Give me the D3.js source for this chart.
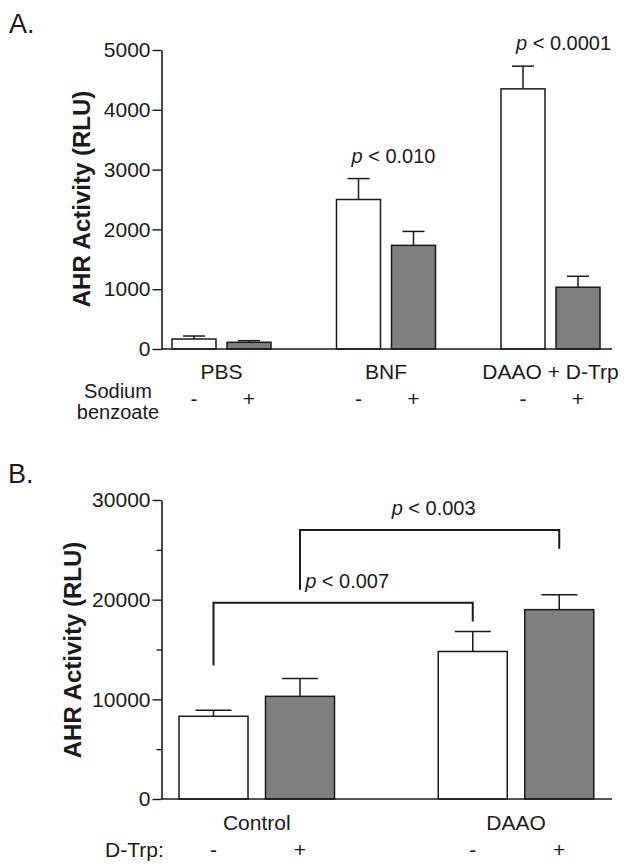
<!DOCTYPE html>
<html>
<head>
<meta charset="utf-8">
<script src="https://cdn.jsdelivr.net/npm/d3@7"></script>
<style>
  html, body { margin: 0; padding: 0; background: #fff; }
  svg { display: block; font-family: 'Liberation Sans', Arial, sans-serif; }
</style>
</head>
<body>
<div id="chart"></div>
<script>
// Panel A - sodium benzoate
const groupsA = ['PBS', 'BNF', 'DAAO + D-Trp']
const withoutBenzoate = [167, 2500, 4350]
const withoutBenzoateSem = [50, 350, 380]
const withBenzoate = [112, 1733, 1033]
const withBenzoateSem = [27, 233, 183]
const pValuesA = ['', '0.010', '0.0001']
const yTicksA = [0, 1000, 2000, 3000, 4000, 5000]

// Panel B - D-Trp
const groupsB = ['Control', 'DAAO']
const withoutTrp = [8300, 14800]
const withoutTrpSem = [600, 2000]
const withTrp = [10300, 19000]
const withTrpSem = [1800, 1500]
const yTicksB = [0, 10000, 20000, 30000]
const yMinorTicksB = [5000, 15000, 25000]
// brackets: [group, sign] to [group, sign], line level, leg ends, p value
const bracketsB = [
  { from: ['Control', '-'], to: ['DAAO', '-'], level: 19700, legs: [13400, 17800], p: '0.007' },
  { from: ['Control', '+'], to: ['DAAO', '+'], level: 27000, legs: [21000, 25100], p: '0.003' }
]

const signs = ['-', '+']

const W = 626, H = 868
const INK = '#1a1a1a'
const GREY = '#7f7f7f'
const FS = '21px'

const svg = d3.select('#chart').append('svg')
  .attr('width', W).attr('height', H)

function rows(groups, a, aSem, b, bSem) {
  const out = []
  groups.forEach((g, i) => {
    out.push({ group: g, sign: '-', value: a[i], sem: aSem[i] })
    out.push({ group: g, sign: '+', value: b[i], sem: bSem[i] })
  })
  return out
}

function drawPanel(cfg) {
  const g = svg.append('g').attr('transform', `translate(${cfg.left},${cfg.top})`)
  const innerW = cfg.right - cfg.left
  const innerH = cfg.bottom - cfg.top

  const x = d3.scalePoint().domain(cfg.groups).range(cfg.xRange)
  const xs = d3.scalePoint().domain(signs).range([-cfg.offset, cfg.offset])
  const y = d3.scaleLinear().domain(cfg.yDomain).range([innerH, 0])
  const cx = (grp, s) => x(grp) + xs(s)

  // y axis
  const ya = g.append('g')
    .call(d3.axisLeft(y).tickValues(cfg.yTicks).tickFormat(d3.format('d'))
      .tickSize(9).tickSizeOuter(0).tickPadding(2))
  ya.select('.domain').attr('stroke', INK).attr('stroke-width', 1.6)
  ya.selectAll('.tick line').attr('stroke', INK).attr('stroke-width', 1.4)
  ya.selectAll('.tick text')
    .style('font-size', FS).style('fill', INK)
    .style('font-family', "'Liberation Sans', Arial, sans-serif")

  if (cfg.minorTicks) {
    g.append('g')
      .call(d3.axisLeft(y).tickValues(cfg.minorTicks).tickSize(5).tickFormat(''))
      .call(sel => sel.select('.domain').remove())
      .call(sel => sel.selectAll('.tick line').attr('stroke', INK).attr('stroke-width', 1.4))
  }

  // bars
  const data = rows(cfg.groups, cfg.a, cfg.aSem, cfg.b, cfg.bSem)
  g.selectAll('.bar').data(data).enter().append('rect')
    .attr('class', 'bar')
    .attr('x', d => cx(d.group, d.sign) - cfg.barW / 2)
    .attr('width', cfg.barW)
    .attr('y', d => y(d.value))
    .attr('height', d => innerH - y(d.value))
    .attr('fill', d => d.sign === '-' ? '#fff' : GREY)
    .attr('stroke', INK).attr('stroke-width', 1.5)

  // error bars (upper only)
  const err = g.selectAll('.err').data(data).enter().append('g').attr('class', 'err')
    .attr('stroke', INK).attr('stroke-width', 1.5)
  err.append('line')
    .attr('x1', d => cx(d.group, d.sign)).attr('x2', d => cx(d.group, d.sign))
    .attr('y1', d => y(d.value)).attr('y2', d => y(d.value + d.sem))
  err.append('line')
    .attr('x1', d => cx(d.group, d.sign) - cfg.capW / 2)
    .attr('x2', d => cx(d.group, d.sign) + cfg.capW / 2)
    .attr('y1', d => y(d.value + d.sem)).attr('y2', d => y(d.value + d.sem))

  // x axis line
  g.append('line')
    .attr('x1', 0).attr('x2', innerW)
    .attr('y1', innerH).attr('y2', innerH)
    .attr('stroke', INK).attr('stroke-width', 1.6)

  // group labels
  g.selectAll('.grp').data(cfg.groups).enter().append('text')
    .attr('x', d => x(d)).attr('y', innerH + cfg.groupLabelDy)
    .attr('text-anchor', 'middle')
    .style('font-size', FS).style('fill', INK)
    .text(d => d)

  // sign row
  g.selectAll('.sign').data(data).enter().append('text')
    .attr('x', d => cx(d.group, d.sign)).attr('y', innerH + cfg.signDy)
    .attr('text-anchor', 'middle')
    .style('font-size', FS).style('fill', INK)
    .text(d => d.sign)

  // y title
  g.append('text')
    .attr('transform', `translate(${cfg.titleX - cfg.left},${cfg.titleY - cfg.top}) rotate(-90)`)
    .attr('text-anchor', 'middle')
    .style('font-size', '24px').style('font-weight', 'bold').style('fill', INK)
    .text('AHR Activity (RLU)')

  return { g, x, y, cx, innerH }
}

function pLabel(sel, px, py, anchor, value) {
  const t = sel.append('text')
    .attr('x', px).attr('y', py)
    .attr('text-anchor', anchor)
    .style('font-size', '20px').style('fill', INK)
  t.append('tspan').style('font-style', 'italic').text('p')
  t.append('tspan').text(' < ' + value)
}

// ---- Panel A
const A = drawPanel({
  left: 161.5, right: 612, top: 50, bottom: 349,
  groups: groupsA, xRange: [60, 389], offset: 27.5, barW: 44, capW: 22,
  a: withoutBenzoate, aSem: withoutBenzoateSem, b: withBenzoate, bSem: withBenzoateSem,
  yDomain: [0, 5000], yTicks: yTicksA,
  groupLabelDy: 30, signDy: 57,
  titleX: 90, titleY: 199
})

groupsA.forEach((grp, i) => {
  if (!pValuesA[i]) return
  pLabel(A.g, A.cx(grp, '-') - 7, A.y(withoutBenzoate[i] + withoutBenzoateSem[i]) - 16, 'start', pValuesA[i])
})

svg.append('text').attr('x', 118).attr('y', 398).attr('text-anchor', 'middle')
  .style('font-size', '20px').style('fill', INK).text('Sodium')
svg.append('text').attr('x', 118).attr('y', 419).attr('text-anchor', 'middle')
  .style('font-size', '20px').style('fill', INK).text('benzoate')

svg.append('text').attr('x', 9).attr('y', 33)
  .style('font-size', '27px').style('fill', INK).text('A.')

// ---- Panel B
const B = drawPanel({
  left: 161.5, right: 612, top: 500, bottom: 799,
  groups: groupsB, xRange: [95.25, 354.5], offset: 43.25, barW: 69, capW: 36,
  a: withoutTrp, aSem: withoutTrpSem, b: withTrp, bSem: withTrpSem,
  yDomain: [0, 30000], yTicks: yTicksB, minorTicks: yMinorTicksB,
  groupLabelDy: 31, signDy: 58,
  titleX: 81, titleY: 650
})

bracketsB.forEach(br => {
  const x1 = B.cx(br.from[0], br.from[1])
  const x2 = B.cx(br.to[0], br.to[1])
  const yl = B.y(br.level)
  B.g.append('path')
    .attr('d', `M${x1},${B.y(br.legs[0])}V${yl}H${x2}V${B.y(br.legs[1])}`)
    .attr('fill', 'none').attr('stroke', INK).attr('stroke-width', 2)
  pLabel(B.g, (x1 + x2) / 2 + 4, yl - 15, 'middle', br.p)
})

svg.append('text').attr('x', 105).attr('y', 857)
  .style('font-size', FS).style('fill', INK).text('D-Trp:')

svg.append('text').attr('x', 8).attr('y', 483)
  .style('font-size', '27px').style('fill', INK).text('B.')
</script>
</body>
</html>
